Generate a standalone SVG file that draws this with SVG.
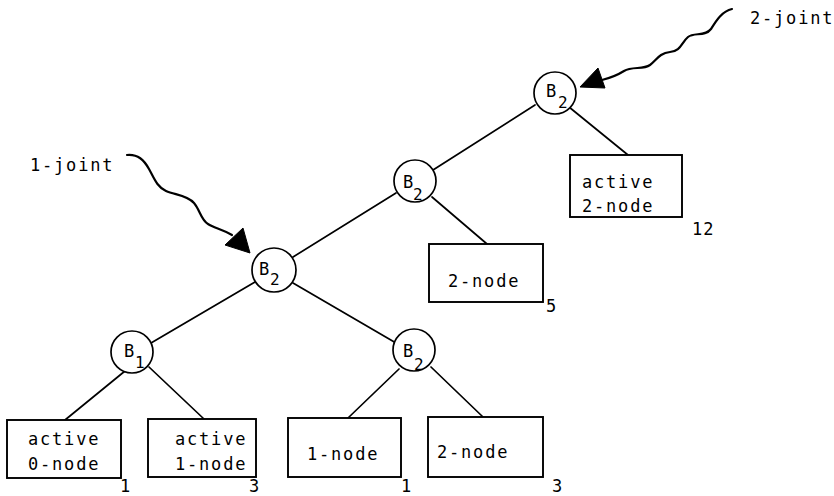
<svg xmlns="http://www.w3.org/2000/svg" width="834" height="496" viewBox="0 0 834 496">
  <style>
    .bg { fill: #ffffff; }
    .edge { stroke: #000; stroke-width: 1.7; fill: none; stroke-linecap: round; }
    .wave { stroke: #000; stroke-width: 2.2; fill: none; stroke-linecap: round; }
    .head { fill: #000; stroke: #000; stroke-width: 1; stroke-linejoin: round; }
    .circ { fill: #fff; stroke: #000; stroke-width: 1.7; }
    .box { fill: #fff; stroke: #000; stroke-width: 1.9; }
    text { font-family: "DejaVu Sans Mono", "Liberation Mono", monospace; font-size: 17px; fill: #000; letter-spacing: 1.8px; }
    .b { font-size: 17px; letter-spacing: 0; }
    .sub { font-size: 16px; letter-spacing: 0; }
    .num { font-size: 17px; letter-spacing: 1px; }
  </style>

  <rect class="bg" x="0" y="0" width="834" height="496"/>

  <!-- tree edges -->
  <g id="connectors">
    <line class="edge" x1="535" y1="105" x2="433" y2="170"/>
    <line class="edge" x1="569" y1="107" x2="628" y2="155"/>
    <line class="edge" x1="396" y1="193" x2="293" y2="257"/>
    <line class="edge" x1="432" y1="197" x2="487" y2="244"/>
    <line class="edge" x1="255" y1="282" x2="151" y2="343"/>
    <line class="edge" x1="293" y1="283" x2="396" y2="343"/>
    <line class="edge" x1="125" y1="371" x2="65" y2="420"/>
    <line class="edge" x1="149" y1="367" x2="204" y2="419"/>
    <line class="edge" x1="399" y1="369" x2="348" y2="418"/>
    <line class="edge" x1="431" y1="367" x2="483" y2="417"/>
  </g>

  <!-- joint pointers -->
  <g id="joint2">
    <path class="wave" d="M732,9 C722,11 716,21 711,29 C705,37 694,32 688,37 C681,43 681,51 670,52 C659,53 656,61 650,65 C643,70 632,66 624,71 C616,76 610,78 602,80"/>
    <polygon class="head" points="580,87 598,68 605,88"/>
    <text x="750" y="24">2-joint</text>
  </g>
  <g id="joint1">
    <path class="wave" d="M127,155 C138,154 144,160 149,169 C154,178 157,187 166,191 C175,195 187,195 194,203 C200,210 201,220 208,224 C214,228 222,229 232,235"/>
    <polygon class="head" points="250,253 225,245 243,228"/>
    <text x="30" y="171">1-joint</text>
  </g>

  <!-- branch nodes -->
  <g id="n-top">
    <circle class="circ" cx="555" cy="93" r="21"/>
    <text class="b" x="546" y="97">B</text><text class="sub" x="558" y="108">2</text>
  </g>
  <g id="n-mid">
    <circle class="circ" cx="415" cy="181" r="21"/>
    <text class="b" x="403" y="188">B</text><text class="sub" x="413" y="200">2</text>
  </g>
  <g id="n-left">
    <circle class="circ" cx="274" cy="270" r="22"/>
    <text class="b" x="259" y="275">B</text><text class="sub" x="270" y="285">2</text>
  </g>
  <g id="n-b1">
    <circle class="circ" cx="132" cy="352" r="21"/>
    <text class="b" x="124" y="357">B</text><text class="sub" x="135" y="368">1</text>
  </g>
  <g id="n-right">
    <circle class="circ" cx="414" cy="350" r="21"/>
    <text class="b" x="403" y="357">B</text><text class="sub" x="414" y="370">2</text>
  </g>

  <!-- leaf boxes -->
  <g id="leaf-a2">
    <rect class="box" x="570" y="155" width="112" height="62"/>
    <text x="582" y="188">active</text>
    <text x="582" y="212">2-node</text>
    <text class="num" x="692" y="235">12</text>
  </g>
  <g id="leaf-mid2">
    <rect class="box" x="429" y="244" width="114" height="58"/>
    <text x="448" y="287">2-node</text>
    <text class="num" x="546" y="312">5</text>
  </g>
  <g id="leaf-a0">
    <rect class="box" x="7" y="420" width="114" height="58"/>
    <text x="28" y="445">active</text>
    <text x="28" y="470">0-node</text>
    <text class="num" x="120" y="492">1</text>
  </g>
  <g id="leaf-a1">
    <rect class="box" x="148" y="419" width="108" height="58"/>
    <text x="175" y="445">active</text>
    <text x="175" y="470">1-node</text>
    <text class="num" x="249" y="492">3</text>
  </g>
  <g id="leaf-1">
    <rect class="box" x="288" y="418" width="113" height="59"/>
    <text x="307" y="460">1-node</text>
    <text class="num" x="401" y="492">1</text>
  </g>
  <g id="leaf-2">
    <rect class="box" x="428" y="417" width="115" height="60"/>
    <text x="437" y="458">2-node</text>
    <text class="num" x="552" y="492">3</text>
  </g>
</svg>
